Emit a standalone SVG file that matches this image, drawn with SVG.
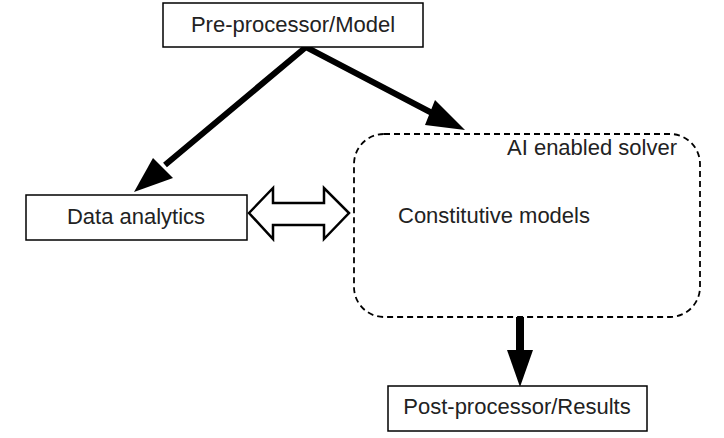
<svg xmlns="http://www.w3.org/2000/svg" width="724" height="438" viewBox="0 0 724 438">
<style>
.box{fill:#fff;stroke:#000;stroke-width:1.5}
.lbl{font-family:"Liberation Sans",Arial,sans-serif;font-size:22px;fill:#222}
.thick{stroke:#000;stroke-width:6;fill:none}
.head{fill:#000;stroke:none}
</style>
<rect width="724" height="438" fill="#fff"/>
<g id="connectors">
<path class="thick" d="M165,165 L306,47 L432,113"/>
<polygon class="head" points="134,192 153,158 173,178"/>
<polygon class="head" points="465,130 435,100 425,125"/>
<polygon fill="#fff" stroke="#000" stroke-width="2.5" points="249,213 273,188 273,203 324,203 324,188 349,213 324,239 324,225 273,225 273,239"/>
<rect class="head" x="516" y="317" width="8" height="34"/>
<polygon class="head" points="507,350 533,350 520,387"/>
</g>
<g id="solver">
<rect x="354" y="134" width="346" height="183" rx="30" ry="30" fill="none" stroke="#000" stroke-width="1.8" stroke-dasharray="6,4"/>
<text class="lbl" x="507" y="155">AI enabled solver</text>
<text class="lbl" x="398" y="223">Constitutive models</text>
</g>
<g id="preprocessor">
<rect class="box" x="163" y="3" width="260" height="44"/>
<text class="lbl" x="293" y="32" text-anchor="middle">Pre-processor/Model</text>
</g>
<g id="data-analytics">
<rect class="box" x="26" y="195" width="221" height="45"/>
<text class="lbl" x="136" y="224" text-anchor="middle">Data analytics</text>
</g>
<g id="postprocessor">
<rect class="box" x="388" y="386" width="259" height="45"/>
<text class="lbl" x="517" y="414" text-anchor="middle">Post-processor/Results</text>
</g>
</svg>
